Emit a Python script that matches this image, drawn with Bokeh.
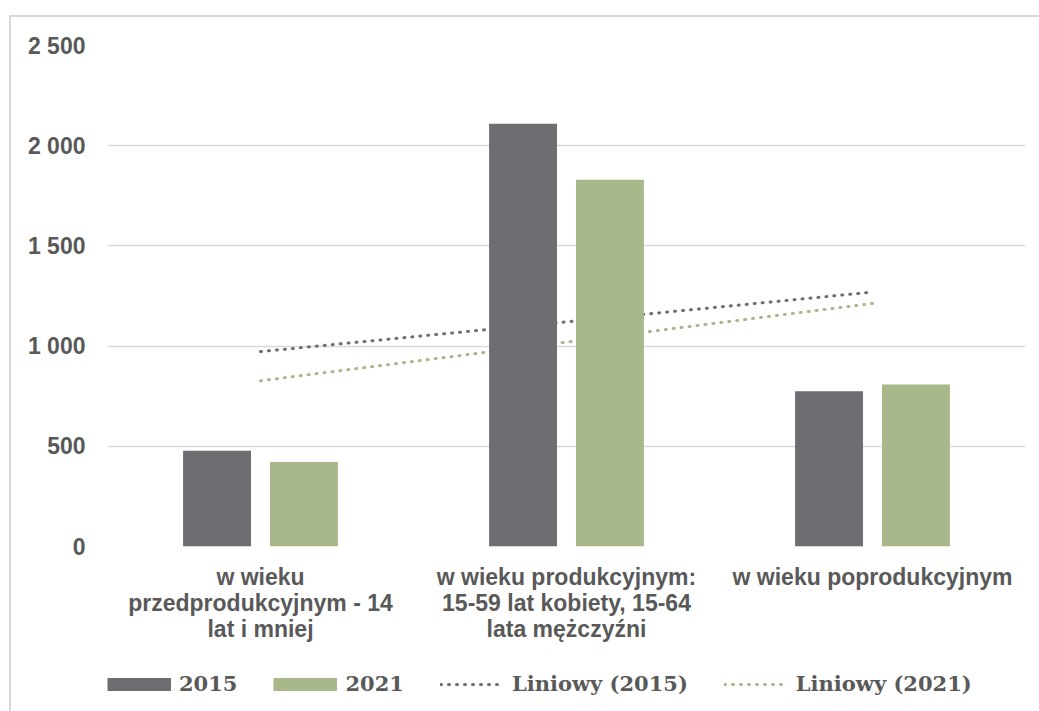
import numpy as np
from bokeh.plotting import figure
from bokeh.layouts import column
from bokeh.models import FactorRange, Range1d, FixedTicker, Legend, LegendItem
from bokeh.transform import dodge
from bokeh.embed import file_html
from bokeh.resources import INLINE

# ---- data ----
categories = [
    "w wieku\nprzedprodukcyjnym - 14\nlat i mniej",
    "w wieku produkcyjnym:\n15-59 lat kobiety, 15-64\nlata mężczyźni",
    "w wieku poprodukcyjnym",
]
series_names = ["2015", "2021"]
values_2015 = [478, 2110, 775]
values_2021 = [422, 1830, 808]
trend_names = ["Liniowy (2015)", "Liniowy (2021)"]
y_ticks = [0, 500, 1000, 1500, 2000, 2500]
y_tick_labels = ["0", "500", "1 000", "1 500", "2 000", "2 500"]

# ---- style ----
GRAY = "#6E6D72"
GREEN = "#A8B88A"
TEXT = "#595959"
GRID = "#D9D9D9"
W = 1039
H_MAIN = 660
H_LEG = 51

# linear trends (Excel "Liniowy") fitted over category index 1..n
idx = np.arange(1, len(categories) + 1)
trend_2015 = np.polyval(np.polyfit(idx, values_2015, 1), idx)
trend_2021 = np.polyval(np.polyfit(idx, values_2021, 1), idx)

p_main = figure(
    width=W, height=H_MAIN,
    x_range=FactorRange(factors=categories, range_padding=0),
    y_range=Range1d(0, 2500),
    output_backend="svg", toolbar_location=None,
    min_border_left=107, min_border_right=14, min_border_top=45,
    min_border_bottom=H_MAIN - 546,
    outline_line_color=None,
    border_fill_alpha=0, background_fill_color="white",
)
p_main.styles = {
    "background-color": "white",
    "background-image": f"linear-gradient({GRID}, {GRID}), linear-gradient({GRID}, {GRID})",
    "background-size": "100% 2px, 2px 100%",
    "background-position": "9px 15px, 9px 15px",
    "background-repeat": "no-repeat",
}

# trend lines first (bars cover them)
dot = dict(line_width=3, line_dash="1 7", line_cap="round")
p_main.line(x=categories, y=trend_2015, line_color=GRAY, **dot)
p_main.line(x=categories, y=trend_2021, line_color=GREEN, **dot)

data = dict(cat=categories, v2015=values_2015, v2021=values_2021)
p_main.vbar(x=dodge("cat", -0.142, range=p_main.x_range), top="v2015", width=0.222,
            source=data, fill_color=GRAY, line_color=None)
p_main.vbar(x=dodge("cat", 0.142, range=p_main.x_range), top="v2021", width=0.222,
            source=data, fill_color=GREEN, line_color=None)

# axes
p_main.yaxis.ticker = FixedTicker(ticks=y_ticks)
p_main.yaxis.major_label_overrides = dict(zip(y_ticks, y_tick_labels))
p_main.yaxis.axis_line_color = None
p_main.yaxis.major_tick_line_color = None
p_main.yaxis.minor_tick_line_color = None
p_main.yaxis.major_tick_out = 0
p_main.yaxis.major_label_standoff = 22
p_main.yaxis.major_label_text_font = "Liberation Sans"
p_main.yaxis.major_label_text_font_style = "bold"
p_main.yaxis.major_label_text_font_size = "23px"
p_main.yaxis.major_label_text_color = TEXT

p_main.xaxis.axis_line_color = None
p_main.xaxis.major_tick_line_color = None
p_main.xaxis.major_tick_out = 0
p_main.xaxis.major_label_standoff = 17
p_main.xaxis.major_label_text_font = "Liberation Sans"
p_main.xaxis.major_label_text_font_style = "bold"
p_main.xaxis.major_label_text_font_size = "23px"
p_main.xaxis.major_label_text_line_height = 1.0
p_main.xaxis.major_label_text_color = TEXT
p_main.xaxis.major_label_orientation = "horizontal"

p_main.xgrid.grid_line_color = None
p_main.ygrid.grid_line_color = GRID
p_main.ygrid.grid_line_width = 1.5

# ---- legend strip ----
p_leg = figure(
    width=W, height=H_LEG, x_range=Range1d(0, 1), y_range=Range1d(0, 1),
    output_backend="svg", toolbar_location=None,
    x_axis_location=None, y_axis_location=None,
    min_border=0, outline_line_color=None,
    border_fill_alpha=0, background_fill_alpha=0,
)
p_leg.grid.visible = False
p_leg.styles = {
    "background-image": f"linear-gradient({GRID}, {GRID})",
    "background-size": "2px 100%",
    "background-position": "9px 0px",
    "background-repeat": "no-repeat",
}
# swatch renderers for the legend (NaN -> nothing drawn in the strip itself)
s1 = p_leg.line(x=[0], y=[np.nan], line_color=GRAY, line_width=13)
s2 = p_leg.line(x=[0], y=[np.nan], line_color=GREEN, line_width=13)
s3 = p_leg.line(x=[0], y=[np.nan], line_color=GRAY, **dot)
s4 = p_leg.line(x=[0], y=[np.nan], line_color=GREEN, **dot)

legend = Legend(
    items=[
        LegendItem(label=series_names[0], renderers=[s1]),
        LegendItem(label=series_names[1], renderers=[s2]),
        LegendItem(label=trend_names[0], renderers=[s3]),
        LegendItem(label=trend_names[1], renderers=[s4]),
    ],
    orientation="horizontal",
    location=(0, 15),
    glyph_width=64, glyph_height=22,
    label_standoff=8, spacing=36, padding=0, margin=0,
    border_line_alpha=0, background_fill_alpha=0,
    label_text_font="DejaVu Serif", label_text_font_style="bold",
    label_text_font_size="21px", label_text_color=TEXT,
)
p_leg.add_layout(legend)

p = column(p_main, p_leg, spacing=0)
open("out.html", "w").write(file_html(p, INLINE))
